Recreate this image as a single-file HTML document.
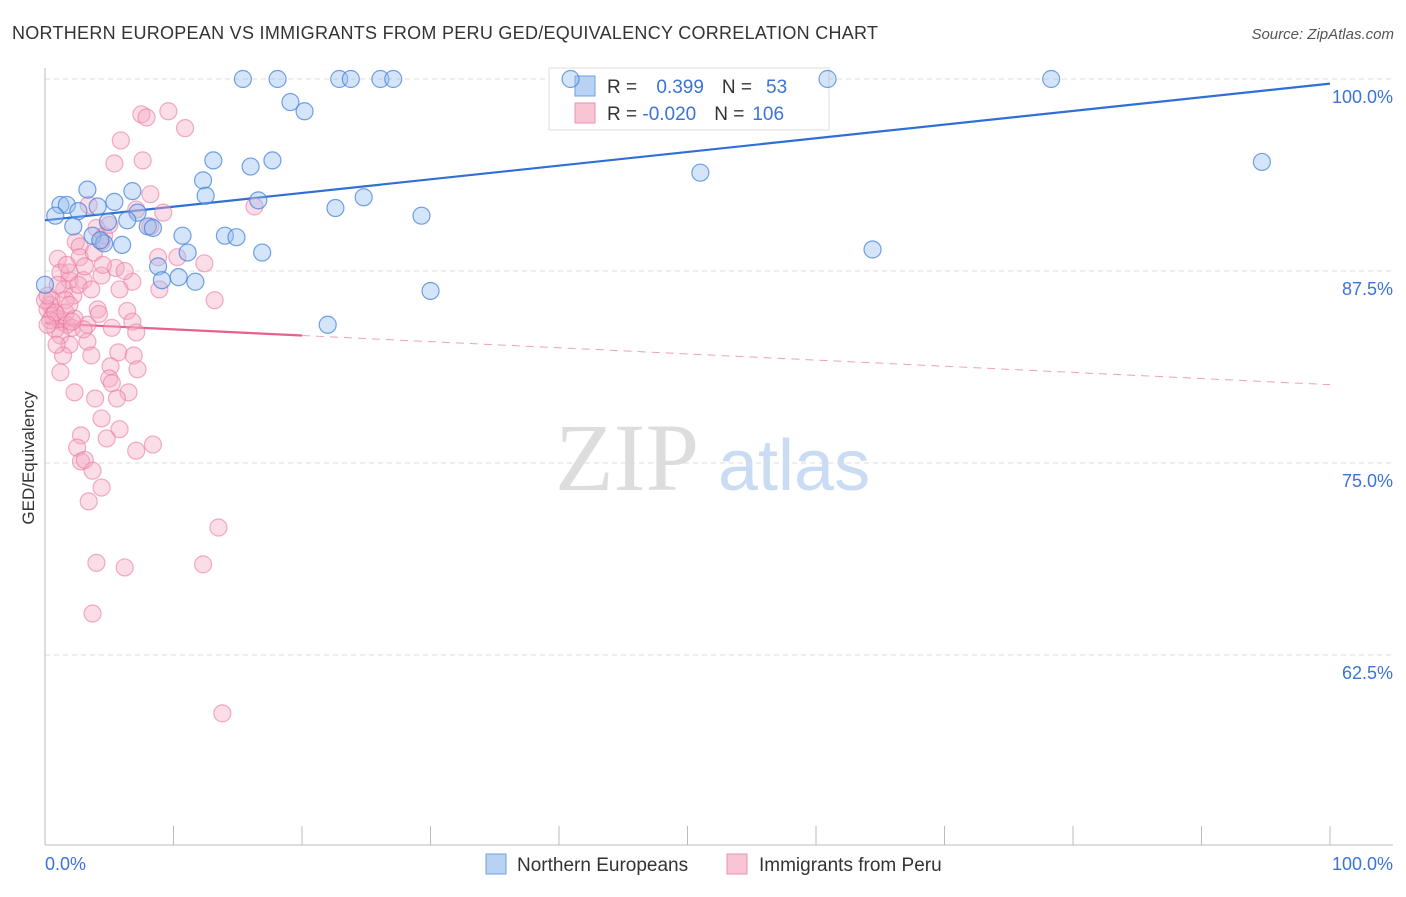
<!DOCTYPE html>
<html><head><meta charset="utf-8"><style>
body{margin:0;background:#fff;font-family:"Liberation Sans",sans-serif;}
</style></head><body>
<svg id="chart" width="1406" height="892" xmlns="http://www.w3.org/2000/svg">
<text x="12" y="39" font-size="18" fill="#333" textLength="866">NORTHERN EUROPEAN VS IMMIGRANTS FROM PERU GED/EQUIVALENCY CORRELATION CHART</text>
<text x="1394" y="39" font-size="15" fill="#555" font-style="italic" text-anchor="end">Source: ZipAtlas.com</text>
<text x="34" y="458" font-size="17" fill="#333" transform="rotate(-90 34 458)" text-anchor="middle">GED/Equivalency</text>
<g><text x="555" y="490" font-size="96" fill="#ddd" font-family="Liberation Serif,serif">ZIP</text><text x="718" y="490" font-size="72" fill="#c9dcf3">atlas</text></g>
<g id="grid"></g><g id="axes"></g>
<g>
<rect x="549" y="68" width="280" height="62" fill="#fff" stroke="#ddd"/>
<rect x="575" y="76" width="20" height="20" fill="#b7d2f3" stroke="#6f9fe0"/>
<rect x="575" y="103" width="20" height="20" fill="#f9c5d5" stroke="#ea92ae"/>
<text x="607" y="93" font-size="19" fill="#333">R = <tspan fill="#3b73d9" dx="14">0.399</tspan><tspan fill="#333" dx="18">N =</tspan><tspan fill="#3b73d9" dx="14">53</tspan></text>
<text x="607" y="120" font-size="19" fill="#333">R = <tspan fill="#3b73d9">-0.020</tspan><tspan fill="#333" dx="18">N =</tspan><tspan fill="#3b73d9" dx="8">106</tspan></text>
</g>
<g id="trend"></g><g id="pts"></g>
<g>
<rect x="486" y="854" width="20" height="20" fill="#b7d2f3" stroke="#6f9fe0"/>
<text x="517" y="871" font-size="19" fill="#333">Northern Europeans</text>
<rect x="727" y="854" width="20" height="20" fill="#f9c5d5" stroke="#ea92ae"/>
<text x="759" y="871" font-size="19" fill="#333">Immigrants from Peru</text>
</g>
</svg>
<script>
const blueX=[15.4,18.1,22.9,23.8,26.1,27.1,40.9,60.9,78.3,19.1,20.2,13.1,17.7,16.0,12.3,12.5,94.7,51.0,3.3,6.8,24.8,1.2,1.7,5.4,16.6,22.6,0.8,2.6,7.2,29.3,4.1,2.2,6.4,4.9,8.0,8.4,10.7,14.0,14.9,3.7,4.6,6.0,11.1,16.9,64.4,8.8,10.4,9.1,11.7,30.0,22.0,0,4.3];
const blueY=[100,100,100,100,100,100,100,100,100,98.5,97.9,94.7,94.7,94.3,93.4,92.4,94.6,93.9,92.8,92.7,92.3,91.8,91.8,92.0,92.1,91.6,91.1,91.4,91.3,91.1,91.7,90.4,90.8,90.7,90.4,90.3,89.8,89.8,89.7,89.8,89.3,89.2,88.7,88.7,88.9,87.8,87.1,86.9,86.8,86.2,84.0,86.6,89.5];
const pinkX=[7.5,7.9,9.6,10.9,5.9,5.4,7.6,8.2,16.3,3.4,7.1,8.2,4.0,2.4,4.4,2.7,2.7,1.0,3.8,12.4,8.8,10.3,5.5,4.4,1.2,1.9,3.0,6.8,1.5,2.2,8.9,13.2,0.5,0.4,0.2,0.6,1.0,1.3,1.7,2.1,0.8,1.2,0.4,4.1,6.4,6.8,3.3,5.2,7.1,4.2,1.9,3.3,1.4,3.6,5.7,5.1,6.9,5.0,1.2,7.2,5.2,6.5,2.3,5.6,3.9,4.4,5.8,2.8,4.8,7.1,8.4,2.5,2.8,3.1,3.7,4.4,3.4,13.5,4.0,6.2,12.3,3.7,13.8,1.9,0,0.2,0.8,1.6,2.6,3.1,4.5,5.8,1.6,2.3,3.0,0.9,1.9,0.2,4.6,5.0,9.2,3.6,1.0,1.7,6.2,2.1];
const pinkY=[97.7,97.5,97.9,96.8,96.0,94.5,94.7,92.5,91.7,91.8,91.5,90.4,90.3,89.4,89.4,89.1,88.4,88.3,88.7,88.0,88.4,88.4,87.7,87.2,87.4,86.9,86.9,86.8,86.3,85.9,86.3,85.6,85.6,85.3,85.0,84.6,84.4,84.2,84.0,83.8,83.7,83.3,84.3,85.0,84.9,84.2,84.0,83.8,83.5,84.7,82.7,82.9,82.0,82.0,82.2,81.3,82.0,80.5,80.9,81.1,80.2,79.6,79.6,79.2,79.2,77.9,77.2,76.8,76.6,75.8,76.2,76.0,75.1,75.2,74.5,73.4,72.5,70.8,68.5,68.2,68.4,65.2,58.7,87.4,85.6,85.9,84.8,85.6,86.6,87.8,87.9,86.3,84.8,84.4,83.7,82.7,85.3,84.0,89.8,90.5,91.3,86.3,86.6,87.9,87.5,84.2];
const yTicks=[100,87.5,75,62.5];
const blueTrend=[90.8,99.7];
const pinkTrend=[84.1,80.1];
const NS="http://www.w3.org/2000/svg";
const X=v=>45+v*12.85, Y=v=>79+(100-v)*15.36;
function mk(p,t,a){const e=document.createElementNS(NS,t);for(const k in a)e.setAttribute(k,a[k]);document.getElementById(p).appendChild(e);return e;}
yTicks.forEach(t=>{
 const g=mk('grid','line',{x1:45,x2:1393,y1:Y(t),y2:Y(t),stroke:'#ddd','stroke-dasharray':'5,4'});
 
 
 const l=mk('grid','text',{x:1393,y:Y(t)+24,'font-size':18,fill:'#3b73d9','text-anchor':'end'});
 l.textContent=(t===100?'100.0':t.toFixed(1))+'%';
 
 
});
mk('axes','line',{x1:45,x2:45,y1:68,y2:845,stroke:'#bbb'});
mk('axes','line',{x1:45,x2:1393,y1:845,y2:845,stroke:'#bbb'});
for(let i=0;i<=10;i++){mk('axes','line',{x1:X(i*10),x2:X(i*10),y1:826,y2:845,stroke:'#bbb'});}
let t0=mk('axes','text',{x:45,y:870,'font-size':18,fill:'#3b73d9'});t0.textContent='0.0%';


let t1=mk('axes','text',{x:1393,y:870,'font-size':18,fill:'#3b73d9','text-anchor':'end'});t1.textContent='100.0%';


pinkX.forEach((x,i)=>{const c=mk('pts','circle',{cx:X(x),cy:Y(pinkY[i]),r:8.5,fill:'rgba(246,170,195,0.4)',stroke:'rgba(234,120,160,0.6)','stroke-width':1.2});
 
 });
blueX.forEach((x,i)=>{const c=mk('pts','circle',{cx:X(x),cy:Y(blueY[i]),r:8.5,fill:'rgba(150,190,240,0.4)',stroke:'rgba(70,130,220,0.75)','stroke-width':1.2});
 
 });
const bt=mk('trend','line',{x1:X(0),y1:Y(blueTrend[0]),x2:X(100),y2:Y(blueTrend[1]),stroke:'#2f6fd6','stroke-width':2.2});


const pm=pinkTrend[0]+(pinkTrend[1]-pinkTrend[0])*0.2;
const ps=mk('trend','line',{x1:X(0),y1:Y(pinkTrend[0]),x2:X(20),y2:Y(pm),stroke:'#e8608c','stroke-width':2.2});


const pd=mk('trend','line',{x1:X(20),y1:Y(pm),x2:X(100),y2:Y(pinkTrend[1]),stroke:'#eea0ba','stroke-width':1,'stroke-dasharray':'8,6'});


</script>
</body></html>
